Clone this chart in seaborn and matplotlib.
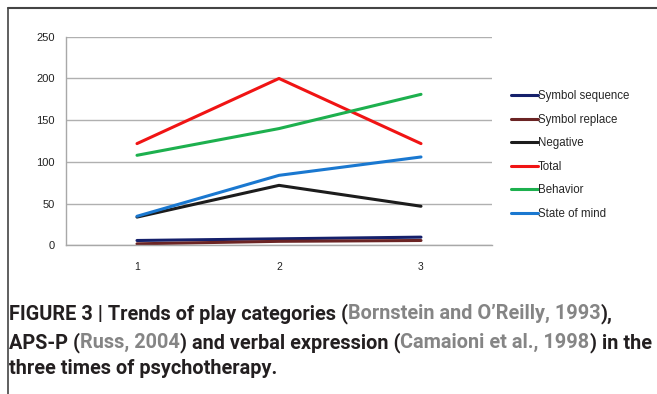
import matplotlib
matplotlib.use("Agg")
import matplotlib.pyplot as plt
import seaborn as sns
import pandas as pd
from matplotlib.lines import Line2D

times = [1, 2, 3]
series_names = ["Symbol sequence", "Symbol replace", "Negative", "Total", "Behavior", "State of mind"]
symbol_sequence = [6, 8, 10]
symbol_replace = [2, 5, 6]
negative = [34, 72, 47]
total = [122, 200, 122]
behavior = [108, 140, 181]
state_of_mind = [35, 84, 106]
colors = ["#15206b", "#6b2424", "#1c1c1c", "#f01414", "#1db04e", "#1a78d0"]
y_ticks = [0, 50, 100, 150, 200, 250]

values = [symbol_sequence, symbol_replace, negative, total, behavior, state_of_mind]
rows = []
for name, vals in zip(series_names, values):
    for t, v in zip(times, vals):
        rows.append({"time": t, "value": v, "series": name})
df = pd.DataFrame(rows)

sns.set_style("white")
plt.rcParams['font.family'] = ['Liberation Sans', 'DejaVu Sans']

W, H = 657, 394
fig = plt.figure(figsize=(W / 100, H / 100), dpi=100)
ax = fig.add_axes([66 / W, 1 - 245.5 / H, (492 - 66) / W, (245.5 - 36.7) / H])

sns.lineplot(data=df, x="time", y="value", hue="series", hue_order=series_names,
             palette=colors, linewidth=2.2, ax=ax, legend=False, sort=False)

ax.set_xlim(0.5, 3.5)
ax.set_ylim(0, 250)
ax.set_yticks(y_ticks)
ax.set_yticklabels([str(v) for v in y_ticks], fontsize=8, color="#222222")
ax.set_xticks(times)
ax.set_xticklabels([str(t) for t in times], fontsize=7.5, color="#222222")
ax.set_xticks([0.5, 1.5, 2.5, 3.5], minor=True)
ax.tick_params(axis="x", which="major", length=0, pad=12)
ax.tick_params(axis="x", which="minor", length=4, color="#a0a0a0", width=1, direction="out")
ax.tick_params(axis="y", which="major", length=4, color="#a0a0a0", width=1, direction="out", pad=4)
ax.set_xlabel("")
ax.set_ylabel("")
ax.grid(axis="y", color="#b0b0b0", linewidth=1.0)
ax.set_axisbelow(True)
for s in ["top", "right"]:
    ax.spines[s].set_visible(False)
for s in ["left", "bottom"]:
    ax.spines[s].set_color("#a8a8a8")
    ax.spines[s].set_linewidth(1.0)

handles = [Line2D([0], [0], color=c, linewidth=2.2) for c in colors]
fig.legend(handles, series_names, loc="upper left",
           bbox_to_anchor=(511 / W, 1 - 90.5 / H), frameon=False,
           fontsize=8.3, handlelength=2.3, handletextpad=0.05,
           labelspacing=0.99, borderaxespad=0, borderpad=0)

# outer frame
fig.add_artist(Line2D([8 / W, 1], [1 - 8 / H, 1 - 8 / H], transform=fig.transFigure,
                      color="#444444", linewidth=1.5))
fig.add_artist(Line2D([8 / W, 8 / W], [1 - 8 / H, 0], transform=fig.transFigure,
                      color="#444444", linewidth=1.2))

# caption with mixed colours
dark = "#231f20"
gray = "#858585"
lines = [
    [("FIGURE 3 | Trends of play categories (", dark), ("Bornstein and O\u2019Reilly, 1993", gray), ("),", dark)],
    [("APS-P (", dark), ("Russ, 2004", gray), (") and verbal expression (", dark),
     ("Camaioni et al., 1998", gray), (") in the", dark)],
    [("three times of psychotherapy.", dark)],
]
baselines = [319, 348, 374]
cap_family = ['Roboto', 'Liberation Sans', 'DejaVu Sans']
fig.canvas.draw()
renderer = fig.canvas.get_renderer()

def line_width(parts, fs):
    tot = 0
    for txt, col in parts:
        t = fig.text(0, 0, txt, fontsize=fs, fontweight="bold", family=cap_family)
        tot += t.get_window_extent(renderer).width
        t.remove()
    return tot

fs = 12.0
w = line_width(lines[1], fs)
fs = fs * (648 - 9) / w

for parts, yb in zip(lines, baselines):
    x = 9
    for txt, col in parts:
        t = fig.text(x / W, 1 - yb / H, txt, fontsize=fs, fontweight="bold",
                     family=cap_family, color=col, va="baseline", ha="left")
        x += t.get_window_extent(renderer).width

fig.savefig("out.png", dpi=100)
